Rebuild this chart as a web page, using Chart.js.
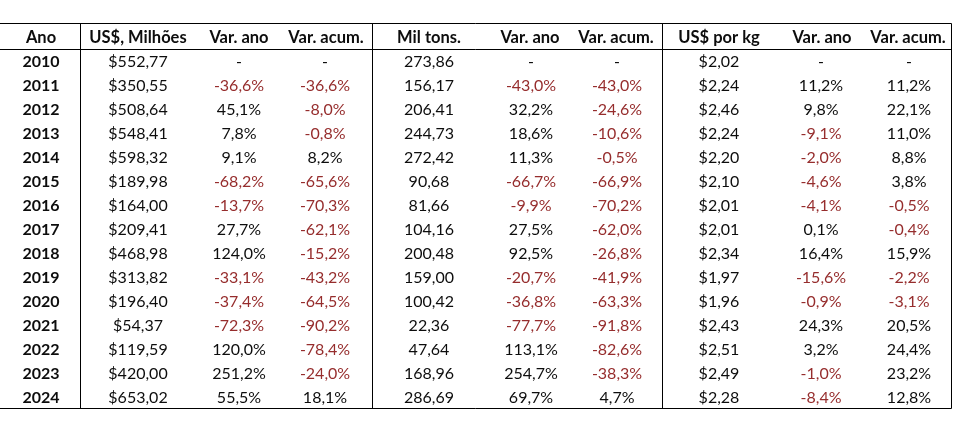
<!DOCTYPE html>
<html>
<head>
<meta charset="utf-8">
<script src="https://cdn.jsdelivr.net/npm/chart.js@4.4.1/dist/chart.umd.min.js"></script>
<style>
  html, body { margin: 0; padding: 0; background: #ffffff; }
  #wrap { width: 954px; height: 438px; }
</style>
</head>
<body>
<div id="wrap"><canvas id="c" width="954" height="438"></canvas></div>
<script>
// ---- data ----
const headers = ["Ano", "US$, Milhões", "Var. ano", "Var. acum.", "Mil tons.", "Var. ano", "Var. acum.", "US$ por kg", "Var. ano", "Var. acum."];
const years = [2010, 2011, 2012, 2013, 2014, 2015, 2016, 2017, 2018, 2019, 2020, 2021, 2022, 2023, 2024];
const usdMilhoes = [552.77, 350.55, 508.64, 548.41, 598.32, 189.98, 164.00, 209.41, 468.98, 313.82, 196.40, 54.37, 119.59, 420.00, 653.02];
const usdVarAno = [null, -36.6, 45.1, 7.8, 9.1, -68.2, -13.7, 27.7, 124.0, -33.1, -37.4, -72.3, 120.0, 251.2, 55.5];
const usdVarAcum = [null, -36.6, -8.0, -0.8, 8.2, -65.6, -70.3, -62.1, -15.2, -43.2, -64.5, -90.2, -78.4, -24.0, 18.1];
const milTons = [273.86, 156.17, 206.41, 244.73, 272.42, 90.68, 81.66, 104.16, 200.48, 159.00, 100.42, 22.36, 47.64, 168.96, 286.69];
const tonsVarAno = [null, -43.0, 32.2, 18.6, 11.3, -66.7, -9.9, 27.5, 92.5, -20.7, -36.8, -77.7, 113.1, 254.7, 69.7];
const tonsVarAcum = [null, -43.0, -24.6, -10.6, -0.5, -66.9, -70.2, -62.0, -26.8, -41.9, -63.3, -91.8, -82.6, -38.3, 4.7];
const usdPorKg = [2.02, 2.24, 2.46, 2.24, 2.20, 2.10, 2.01, 2.01, 2.34, 1.97, 1.96, 2.43, 2.51, 2.49, 2.28];
const kgVarAno = [null, 11.2, 9.8, -9.1, -2.0, -4.6, -4.1, 0.1, 16.4, -15.6, -0.9, 24.3, 3.2, -1.0, -8.4];
const kgVarAcum = [null, 11.2, 22.1, 11.0, 8.8, 3.8, -0.5, -0.4, 15.9, -2.2, -3.1, 20.5, 24.4, 23.2, 12.8];

// ---- layout (table geometry, in scale units) ----
const colCenters = [41, 138, 239, 325, 429, 531, 617, 719, 821, 909];
const headerCenters = [41, 138, 239, 326, 429, 530, 616, 719, 822, 908];
const vLines = [80, 372, 662, 951];
const hLines = [-0.625, 0.458, 15.42];
const tableRight = 951;

const BLACK = "#0d0d0d";
const RED = "#962d2d";
const FONT = "Lato, 'Open Sans', sans-serif";
const BODY_SIZE = 16;
const HEAD_SIZE = 16.5;

function fmtNum(v, prefix) { return prefix + v.toFixed(2).replace('.', ','); }
function fmtPct(v) { return v === null ? "-" : v.toFixed(1).replace('.', ',') + "%"; }

const columns = [
  { vals: years, fmt: v => String(v), bold: true, colorNeg: false },
  { vals: usdMilhoes, fmt: v => fmtNum(v, "$") },
  { vals: usdVarAno, fmt: fmtPct, colorNeg: true },
  { vals: usdVarAcum, fmt: fmtPct, colorNeg: true },
  { vals: milTons, fmt: v => fmtNum(v, "") },
  { vals: tonsVarAno, fmt: fmtPct, colorNeg: true },
  { vals: tonsVarAcum, fmt: fmtPct, colorNeg: true },
  { vals: usdPorKg, fmt: v => fmtNum(v, "$") },
  { vals: kgVarAno, fmt: fmtPct, colorNeg: true },
  { vals: kgVarAcum, fmt: fmtPct, colorNeg: true }
];

const tablePlugin = {
  id: 'tablePlugin',
  afterDraw(chart) {
    const ctx = chart.ctx;
    const xs = chart.scales.x, ys = chart.scales.y;
    ctx.save();
    ctx.strokeStyle = "#000000";
    ctx.lineWidth = 1;
    const yTop = Math.round(ys.getPixelForValue(hLines[0])) + 0.5;
    const yBot = Math.round(ys.getPixelForValue(hLines[2])) + 0.5;
    hLines.forEach(h => {
      const y = Math.round(ys.getPixelForValue(h)) + 0.5;
      ctx.beginPath();
      ctx.moveTo(xs.getPixelForValue(0), y);
      ctx.lineTo(xs.getPixelForValue(tableRight) + 0.5, y);
      ctx.stroke();
    });
    vLines.forEach(v => {
      const x = Math.round(xs.getPixelForValue(v)) + 0.5;
      ctx.beginPath();
      ctx.moveTo(x, yTop);
      ctx.lineTo(x, yBot);
      ctx.stroke();
    });
    ctx.textAlign = "center";
    ctx.textBaseline = "middle";
    ctx.font = "bold " + HEAD_SIZE + "px " + FONT;
    ctx.fillStyle = BLACK;
    headers.forEach((h, i) => {
      ctx.fillText(h, xs.getPixelForValue(headerCenters[i]), ys.getPixelForValue(0));
    });
    columns.forEach((col, ci) => {
      ctx.font = (col.bold ? "bold " : "") + BODY_SIZE + "px " + FONT;
      col.vals.forEach((v, ri) => {
        ctx.fillStyle = (col.colorNeg && v !== null && v < 0) ? RED : BLACK;
        ctx.fillText(col.fmt(v), xs.getPixelForValue(colCenters[ci]), ys.getPixelForValue(ri + 1));
      });
    });
    ctx.restore();
  }
};

new Chart(document.getElementById('c'), {
  type: 'scatter',
  data: { datasets: [{ data: [], pointRadius: 0 }] },
  options: {
    responsive: false,
    animation: false,
    events: [],
    layout: { padding: { left: 0, right: 3, top: 26, bottom: 28 } },
    plugins: { legend: { display: false }, tooltip: { enabled: false } },
    scales: {
      x: { type: 'linear', min: 0, max: 951, display: false },
      y: { type: 'linear', min: -0.5, max: 15.5, reverse: true, display: false }
    }
  },
  plugins: [tablePlugin]
});
</script>
</body>
</html>
